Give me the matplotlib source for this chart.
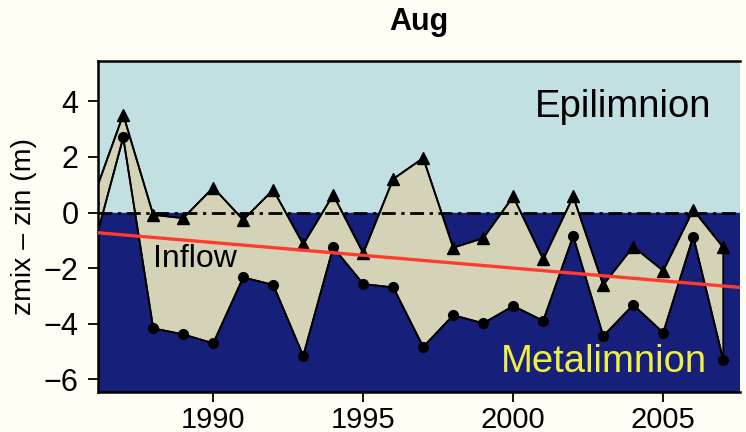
import numpy as np
import matplotlib
matplotlib.use("Agg")
import matplotlib.pyplot as plt

plt.rcParams['font.family'] = ['Liberation Sans', 'DejaVu Sans']

# data
years = np.arange(1986, 2008)
upper = [0.53, 3.52, -0.08, -0.20, 0.90, -0.26, 0.82, -1.14, 0.64, -1.46, 1.21,
         1.96, -1.26, -0.92, 0.58, -1.68, 0.58, -2.60, -1.22, -2.09, 0.10, -1.25]
lower = [-1.31, 2.70, -4.16, -4.38, -4.70, -2.33, -2.60, -5.15, -1.25, -2.57, -2.69,
         -4.83, -3.69, -3.98, -3.36, -3.89, -0.84, -4.44, -3.32, -4.32, -0.86, -5.30]
trend_x = [1986, 2008]
trend_y = [-0.71, -2.73]

fig = plt.figure(figsize=(7.46, 4.32), dpi=100, facecolor='#fffdf4')
ax = fig.add_axes([0.1314, 0.0926, 0.8606, 0.7662])

ax.set_xlim(1986.16, 2007.56)
ax.set_ylim(-6.45, 5.45)

# background layers
ax.axhspan(0, 10, color='#c2e0e2', zorder=0)
ax.axhspan(-10, 0, color='#16207a', zorder=0)

# band between the two series
px = np.concatenate([years, years[::-1]])
py = np.concatenate([upper, lower[::-1]])
ax.fill(px, py, facecolor='#d4d3b7', edgecolor='black', lw=1.3, zorder=1)

ax.axhline(0, color='black', lw=2, dashes=(5, 2, 1.2, 2), zorder=2)

ax.plot(years, upper, color='black', lw=1.3, marker='^', ms=8, zorder=3)
ax.plot(years, lower, color='black', lw=1.3, marker='o', ms=7, zorder=3)

ax.plot(trend_x, trend_y, color='#ff3b2f', lw=2.4, zorder=4)

ax.text(2003.67, 3.45, 'Epilimnion', fontsize=27.5, color='black', ha='center', va='baseline')
ax.text(1988.0, -1.95, 'Inflow', fontsize=23, color='black', ha='left', va='baseline')
ax.text(2003.03, -5.73, 'Metalimnion', fontsize=27.5, color='#eeee44', ha='center', va='baseline')

ax.set_title('Aug', fontsize=22, fontweight='bold', pad=22)
ax.set_ylabel('zmix \u2013 zin (m)', fontsize=20.5, labelpad=5)

ax.set_xticks([1990, 1995, 2000, 2005])
ax.set_yticks([-6, -4, -2, 0, 2, 4])
ax.tick_params(length=7, width=1.3)
ax.tick_params(axis='y', labelsize=22, pad=7)
ax.tick_params(axis='x', labelsize=21, pad=3)
for s in ax.spines.values():
    s.set_linewidth(1.8)
ax.spines['right'].set_visible(False)

fig.savefig('out.png', dpi=100, facecolor=fig.get_facecolor())
